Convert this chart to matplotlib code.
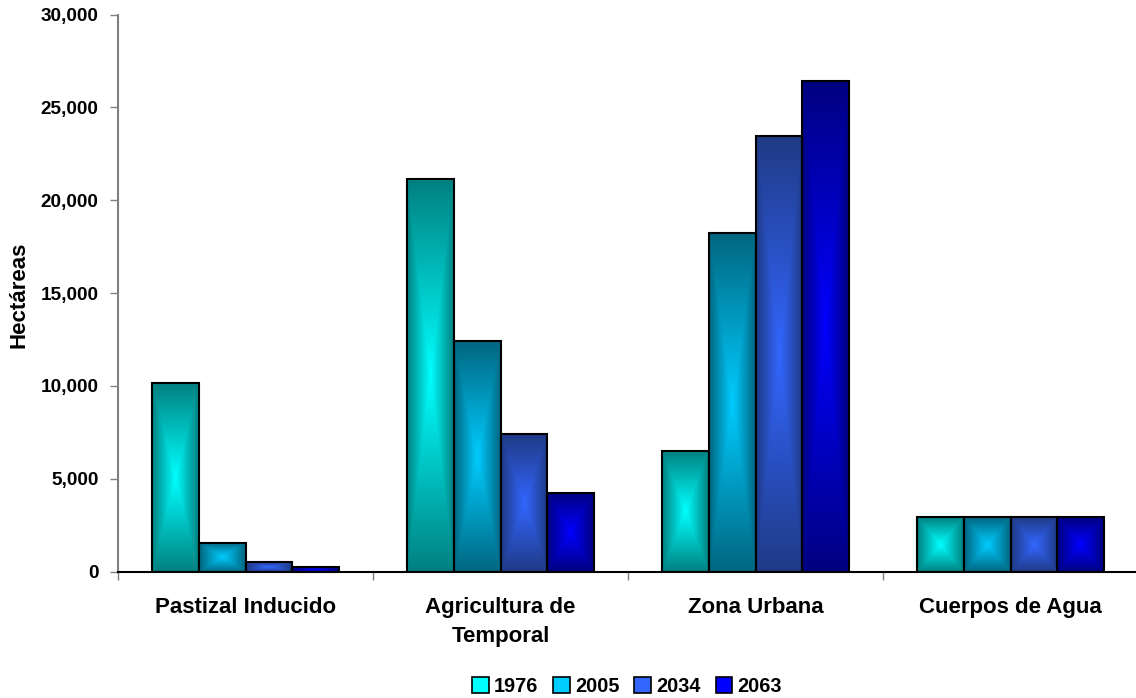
import numpy as np
import matplotlib
matplotlib.use("Agg")
import matplotlib.pyplot as plt
from matplotlib.patches import Patch
from matplotlib.colors import to_rgb

plt.rcParams['font.family'] = ['Liberation Sans', 'DejaVu Sans']

categories = ["Pastizal Inducido", "Agricultura de\nTemporal", "Zona Urbana", "Cuerpos de Agua"]
years = ["1976", "2005", "2034", "2063"]
v1976 = [10150, 21150, 6520, 2930]
v2005 = [1570, 12430, 18250, 2930]
v2034 = [520, 7400, 23470, 2920]
v2063 = [260, 4260, 26450, 2920]
series = [v1976, v2005, v2034, v2063]
yticks = [0, 5000, 10000, 15000, 20000, 25000, 30000]

edge_cols = ["#008080", "#006680", "#1F3A85", "#000080"]
center_cols = ["#00FFFF", "#00CCFF", "#3366FF", "#0000FF"]

fig = plt.figure(figsize=(11.36, 6.98), dpi=100)
ax = fig.add_axes([0.1039, 0.181, 0.898, 0.798])

width = 0.183
x = np.arange(len(categories))

def grad_img(edge, center, nx=60, ny=200):
    e = np.array(to_rgb(edge)); c = np.array(to_rgb(center))
    xs = np.linspace(-1, 1, nx)
    ys = np.linspace(-1, 1, ny)
    X, Y = np.meshgrid(xs, ys)
    t = np.maximum(np.abs(X), np.abs(Y))
    return c[None, None, :] * (1 - t[..., None]) + e[None, None, :] * t[..., None]

for i, vals in enumerate(series):
    bars = ax.bar(x + (i - 1.5) * width, vals, width, facecolor='none',
                  edgecolor='black', linewidth=1.5, zorder=3, label=years[i])
    img = grad_img(edge_cols[i], center_cols[i])
    for b in bars:
        x0 = b.get_x(); w = b.get_width(); h = b.get_height()
        ax.imshow(img, extent=(x0, x0 + w, 0, h), aspect='auto',
                  interpolation='bilinear', zorder=2, origin='lower')

ax.set_xlim(-0.5, 3.5)
ax.set_ylim(0, 30000)
ax.set_yticks(yticks)
ax.set_yticklabels([f"{v:,}" for v in yticks], fontsize=13.7, fontweight='bold')
ax.tick_params(axis='y', direction='out', length=6, width=1, color='#808080', pad=8)
ax.set_xticks(x)
ax.set_xticklabels(categories, fontsize=16, fontweight='bold', linespacing=1.55)
ax.tick_params(axis='x', which='major', length=0, pad=18)
ax.set_xticks(np.arange(-0.5, 4.0, 1.0), minor=True)
ax.tick_params(axis='x', which='minor', direction='out', length=6, width=1, color='#808080')

for s in ['top', 'right']:
    ax.spines[s].set_visible(False)
ax.spines['left'].set_color('#808080')
ax.spines['left'].set_linewidth(1.5)
ax.spines['bottom'].set_color('black')
ax.spines['bottom'].set_linewidth(1.5)
ax.spines['bottom'].set_zorder(4)

fig.text(0.0165, 0.578, "Hectáreas", rotation=90, fontsize=16, fontweight='bold',
         ha='center', va='center')

handles = [Patch(facecolor=center_cols[i], edgecolor='black', linewidth=1.2, label=years[i])
           for i in range(4)]
fig.legend(handles=handles, loc='center', bbox_to_anchor=(0.552, 0.017), ncol=4,
           frameon=False, prop={'size': 14.3, 'weight': 'bold'},
           handlelength=0.85, handleheight=0.85, handletextpad=0.25, columnspacing=0.75)

fig.savefig("out.png", dpi=100)
